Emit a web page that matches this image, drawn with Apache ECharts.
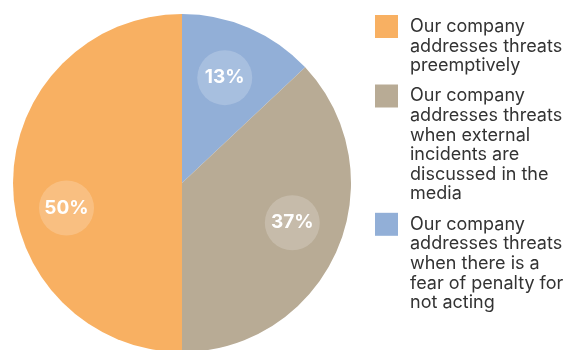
<!DOCTYPE html>
<html>
<head>
<meta charset="utf-8">
<script src="https://cdn.jsdelivr.net/npm/echarts@6/dist/echarts.min.js"></script>
<style>
  html, body { margin: 0; padding: 0; background: #ffffff; }
  #chart { width: 575px; height: 350px; }
</style>
</head>
<body>
<div id="chart"></div>
<script>
// Legend order (top to bottom)
const categories = [
  'Our company\naddresses threats\npreemptively',
  'Our company\naddresses threats\nwhen external\nincidents are\ndiscussed in the\nmedia',
  'Our company\naddresses threats\nwhen there is a\nfear of penalty for\nnot acting'
];
const shares = [50, 37, 13];
const colors = ['#F8B062', '#B8AB95', '#92AFD7'];

// Small nudges that move each percentage badge off the slice's mid-radius
const labelNudges = [[-28, 25], [30, 5], [8, -25]];

const FONT = 'Inter, "Open Sans", sans-serif';
const LINE_H = 19.6;

// Slices are drawn clockwise from 12 o'clock, smallest first
const drawOrder = [2, 1, 0];
const pieData = drawOrder.map(i => ({
  name: categories[i],
  value: shares[i],
  itemStyle: { color: colors[i] },
  label: { offset: labelNudges[i] }
}));

// Legend rows: coloured square on the first line, hanging indent after it
const rich = {
  gap: { width: 12, height: LINE_H, lineHeight: LINE_H },
  ind: { width: 35, height: LINE_H, lineHeight: LINE_H },
  t: { fontFamily: FONT, fontSize: 18, color: '#333333', lineHeight: LINE_H }
};
colors.forEach((c, i) => {
  rich['sq' + i] = { width: 23, height: 23, lineHeight: LINE_H, backgroundColor: c };
});

const chart = echarts.init(document.getElementById('chart'), null, { renderer: 'canvas' });
chart.setOption({
  animation: false,
  legend: {
    orient: 'vertical',
    left: 370,
    top: 15,
    padding: 0,
    itemGap: 9,
    itemWidth: 0,
    itemHeight: 0,
    selectedMode: false,
    data: categories,
    textStyle: { rich: rich },
    formatter: function (name) {
      const idx = categories.indexOf(name);
      const lines = name.split('\n');
      return lines.map((ln, k) => k === 0
        ? '{sq' + idx + '|}{gap|}{t|' + ln + '}'
        : '{ind|}{t|' + ln + '}').join('\n');
    }
  },
  series: [{
    type: 'pie',
    center: [182, 183],
    radius: 169,
    startAngle: 90,
    clockwise: true,
    silent: true,
    itemStyle: { borderWidth: 0 },
    label: {
      show: true,
      position: 'inside',
      formatter: '{c}%',
      color: '#ffffff',
      fontFamily: FONT,
      fontWeight: 'bold',
      fontSize: 19,
      width: 55,
      height: 55,
      lineHeight: 55,
      align: 'center',
      verticalAlign: 'middle',
      borderRadius: 27.5,
      backgroundColor: 'rgba(255,255,255,0.2)'
    },
    labelLine: { show: false },
    emphasis: { disabled: true },
    data: pieData
  }]
});
</script>
</body>
</html>
